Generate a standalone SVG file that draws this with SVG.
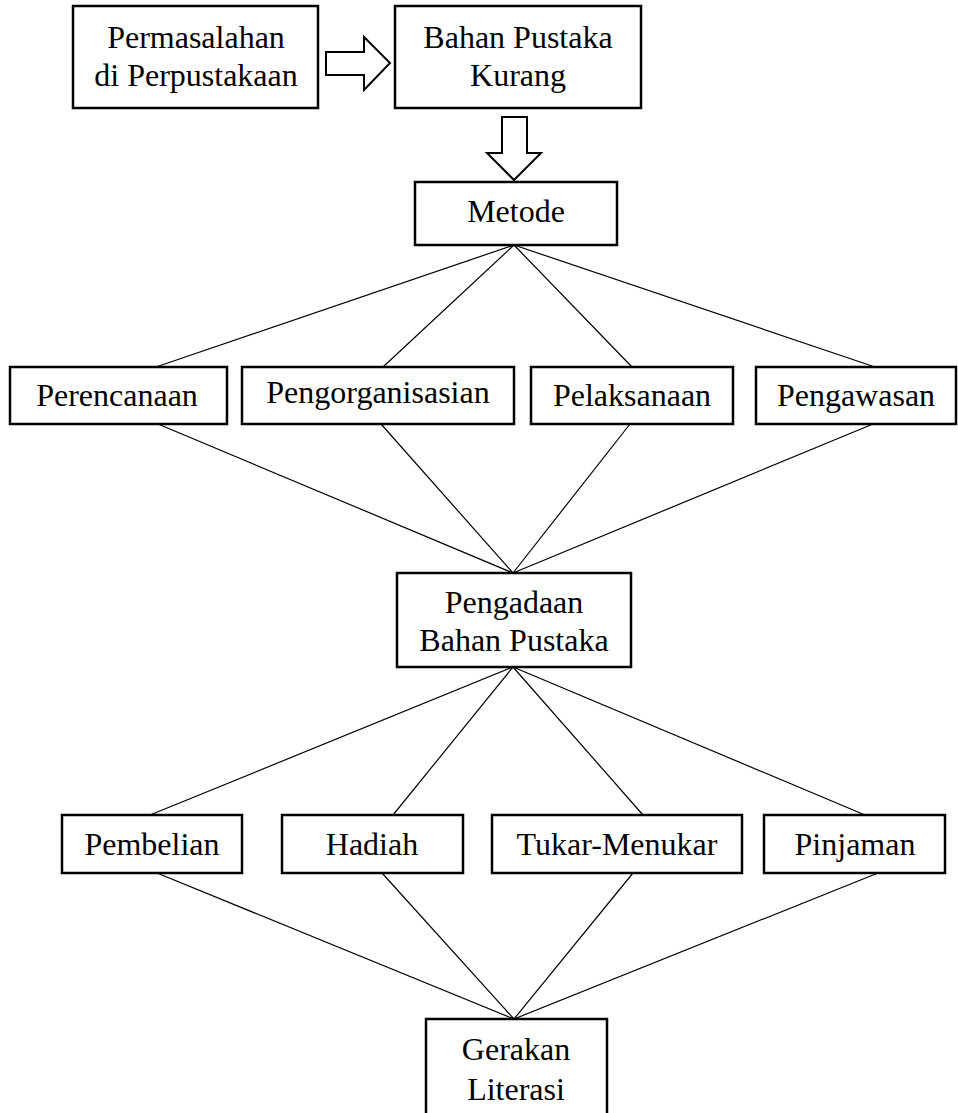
<svg xmlns="http://www.w3.org/2000/svg" width="958" height="1113" viewBox="0 0 958 1113">
<style>
.box{fill:#fff;stroke:#000;stroke-width:2.5}
.arr{fill:#fff;stroke:#000;stroke-width:2;stroke-linejoin:miter}
.t{font-family:"Liberation Serif","Times New Roman",serif;font-size:32px;fill:#000;text-anchor:middle}
.c line{stroke:#000;stroke-width:1.2}
</style>
<rect width="958" height="1113" fill="#fff"/>
<g class="c" id="connectors">
<path class="arr" d="M326,52 H364 V37 L390,63 L364,90 V75 H326 Z"/>
<path class="arr" d="M502,117 H527 V153 H541 L514,180 L487,153 H502 Z"/>
<line x1="514" y1="245" x2="156" y2="367"/>
<line x1="514" y1="245" x2="383" y2="367"/>
<line x1="514" y1="245" x2="632" y2="367"/>
<line x1="514" y1="245" x2="875" y2="367"/>
<line x1="158" y1="424" x2="513" y2="573"/>
<line x1="381" y1="424" x2="513" y2="573"/>
<line x1="630" y1="424" x2="513" y2="573"/>
<line x1="873" y1="424" x2="513" y2="573"/>
<line x1="513" y1="667" x2="150" y2="815"/>
<line x1="513" y1="667" x2="393" y2="815"/>
<line x1="513" y1="667" x2="643" y2="815"/>
<line x1="513" y1="667" x2="865" y2="815"/>
<line x1="157" y1="873" x2="514" y2="1019"/>
<line x1="382" y1="873" x2="514" y2="1019"/>
<line x1="633" y1="873" x2="514" y2="1019"/>
<line x1="878" y1="873" x2="514" y2="1019"/>
</g>
<g id="permasalahan"><rect class="box" x="73" y="6" width="245" height="102"/><text class="t" x="196" y="48">Permasalahan</text><text class="t" x="196" y="86">di Perpustakaan</text></g>
<g id="bahan-kurang"><rect class="box" x="395" y="6" width="246" height="102"/><text class="t" x="518" y="48">Bahan Pustaka</text><text class="t" x="518" y="86">Kurang</text></g>
<g id="metode"><rect class="box" x="415" y="182" width="202" height="63"/><text class="t" x="516" y="222">Metode</text></g>
<g id="perencanaan"><rect class="box" x="10" y="367" width="217" height="57"/><text class="t" x="117" y="406">Perencanaan</text></g>
<g id="pengorganisasian"><rect class="box" x="242" y="367" width="272" height="57"/><text class="t" x="378" y="403">Pengorganisasian</text></g>
<g id="pelaksanaan"><rect class="box" x="531" y="367" width="202" height="57"/><text class="t" x="632" y="406">Pelaksanaan</text></g>
<g id="pengawasan"><rect class="box" x="756" y="367" width="200" height="57"/><text class="t" x="856" y="406">Pengawasan</text></g>
<g id="pengadaan"><rect class="box" x="397" y="573" width="234" height="94"/><text class="t" x="514" y="613">Pengadaan</text><text class="t" x="514" y="651">Bahan Pustaka</text></g>
<g id="pembelian"><rect class="box" x="62" y="815" width="180" height="58"/><text class="t" x="152" y="855">Pembelian</text></g>
<g id="hadiah"><rect class="box" x="282" y="815" width="181" height="58"/><text class="t" x="372" y="855">Hadiah</text></g>
<g id="tukar-menukar"><rect class="box" x="492" y="815" width="250" height="58"/><text class="t" x="617" y="855">Tukar-Menukar</text></g>
<g id="pinjaman"><rect class="box" x="764" y="815" width="181" height="58"/><text class="t" x="855" y="855">Pinjaman</text></g>
<g id="gerakan-literasi"><rect class="box" x="426" y="1019" width="181" height="100"/><text class="t" x="516" y="1060">Gerakan</text><text class="t" x="516" y="1100">Literasi</text></g>
</svg>
